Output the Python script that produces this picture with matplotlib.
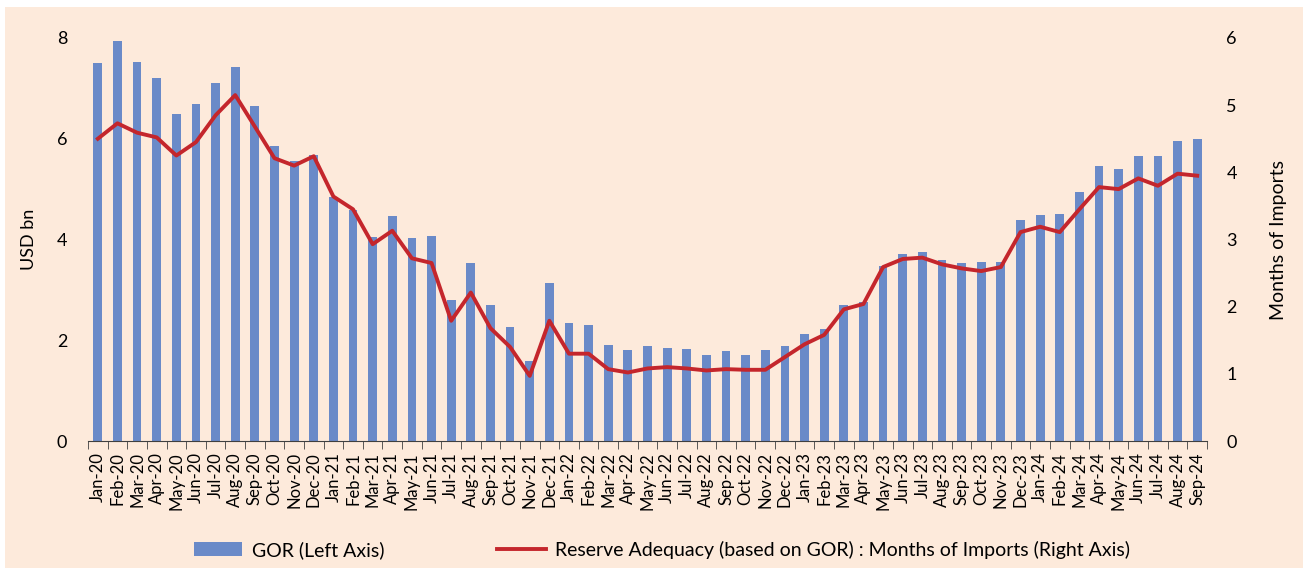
import matplotlib.pyplot as plt
from matplotlib.patches import Rectangle
import numpy as np

months = ['Jan', 'Feb', 'Mar', 'Apr', 'May', 'Jun', 'Jul', 'Aug', 'Sep', 'Oct', 'Nov', 'Dec']
labels = [f'{m}-{y}' for y in ['20', '21', '22', '23', '24'] for m in months][:57]

gor = [7.51, 7.94, 7.53, 7.21, 6.49, 6.69, 7.10, 7.43, 6.66, 5.85, 5.55, 5.67,
       4.84, 4.58, 4.05, 4.47, 4.03, 4.06, 2.80, 3.54, 2.70, 2.26, 1.59, 3.13,
       2.35, 2.30, 1.91, 1.81, 1.88, 1.85, 1.82, 1.71, 1.78, 1.70, 1.80, 1.89,
       2.12, 2.22, 2.69, 2.75, 3.48, 3.72, 3.76, 3.59, 3.53, 3.56, 3.56, 4.38,
       4.48, 4.51, 4.95, 5.46, 5.40, 5.65, 5.65, 5.95, 5.99]

months_of_imports = [4.50, 4.73, 4.59, 4.52, 4.25, 4.45, 4.85, 5.15, 4.68, 4.21, 4.10, 4.24,
                     3.64, 3.45, 2.93, 3.13, 2.72, 2.65, 1.79, 2.21, 1.68, 1.40, 0.97, 1.79,
                     1.30, 1.30, 1.07, 1.02, 1.08, 1.10, 1.08, 1.05, 1.07, 1.06, 1.06, 1.25,
                     1.44, 1.58, 1.96, 2.04, 2.59, 2.71, 2.73, 2.63, 2.57, 2.53, 2.59, 3.11,
                     3.19, 3.11, 3.45, 3.78, 3.75, 3.91, 3.80, 3.98, 3.95]

bg = '#FDEADB'
bar_color = '#6A8AC8'
line_color = '#C4262C'

plt.rcParams['font.family'] = ['Lato', 'DejaVu Sans']

fig = plt.figure(figsize=(13.03, 5.72), dpi=100)
fig.patch.set_facecolor('white')
fig.patches.append(Rectangle((5 / 1303, 4 / 572), 1298 / 1303, 561 / 572,
                             transform=fig.transFigure, facecolor=bg, edgecolor='none', zorder=-10))

ax = fig.add_axes([88 / 1303, 131 / 572, (1207 - 88) / 1303, (441 - 38) / 572])
ax.set_facecolor('none')
x = np.arange(len(labels))
bars = ax.bar(x, gor, width=0.45, color=bar_color, label='GOR (Left Axis)', zorder=2)
ax.set_ylim(0, 8)
ax.set_yticks([0, 2, 4, 6, 8])
ax.set_xlim(-0.5, len(labels) - 0.5)
ax.set_xticks(x)
ax.set_xticklabels(labels, rotation=90, fontsize=12)
ax.set_xticks(np.arange(-0.5, len(labels)), minor=True)
ax.tick_params(axis='x', which='major', length=0, pad=8)
ax.tick_params(axis='x', which='minor', length=6, color='#404040', direction='out')
ax.tick_params(axis='y', length=0, labelsize=13, pad=15)
ax.set_ylabel('USD bn', fontsize=13, labelpad=14)
for s in ['top', 'left', 'right']:
    ax.spines[s].set_visible(False)
ax.spines['bottom'].set_color('#404040')

ax2 = ax.twinx()
line, = ax2.plot(x, months_of_imports, color=line_color, lw=2.8,
                 label='Reserve Adequacy (based on GOR) : Months of Imports (Right Axis)', zorder=3)
ax2.set_ylim(0, 6)
ax2.set_yticks(range(7))
ax2.tick_params(axis='y', length=0, labelsize=13, pad=14)
ax2.set_ylabel('Months of Imports', fontsize=14, labelpad=24)
for s in ['top', 'left', 'right', 'bottom']:
    ax2.spines[s].set_visible(False)

fig.legend(handles=[bars, line], loc='center', bbox_to_anchor=(662 / 1303, 1 - 550 / 572),
           ncol=2, frameon=False, handlelength=2.5, handletextpad=0.5, columnspacing=5.8,
           prop={'family': ['Lato'], 'size': 14})

fig.savefig('out.png', dpi=100, facecolor=fig.get_facecolor())
